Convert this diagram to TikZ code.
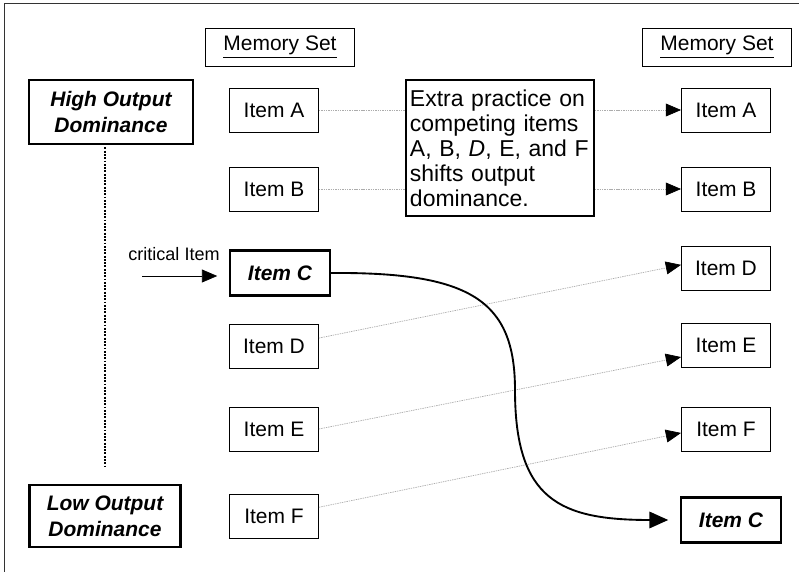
\documentclass[tikz,border=0pt]{standalone}
\usepackage{fontspec}
\setmainfont{Liberation Sans}
\usetikzlibrary{arrows.meta,positioning}

\begin{document}
\begin{tikzpicture}[x=0.03cm,y=-0.03cm,
    every node/.style={inner sep=2pt,font=\fontsize{17.9}{21}\selectfont},
    setbox/.style={draw,line width=0.7pt,minimum width=4.45cm,minimum height=1.14cm},
    itembox/.style={draw,line width=0.8pt,minimum width=2.67cm,minimum height=1.32cm},
    keybox/.style={draw,line width=1.8pt,minimum width=3cm,minimum height=1.35cm,
        font=\fontsize{17.9}{21}\selectfont\bfseries\itshape},
    dombox/.style={draw,line width=1.8pt,align=center,
        font=\fontsize{17.9}{22.2}\selectfont\bfseries\itshape},
    link/.style={gray!65,line width=0.6pt,dash pattern=on 1.2pt off 0.8pt},
    tip/.style={-{Triangle[length=13pt,width=11pt,black]}},
    bigtip/.style={-{Triangle[length=16pt,width=14pt,black]}}]
  \useasboundingbox (0,0) rectangle (799,572);
  % frame
  \draw[line width=0.8pt,black!80] (4,572) -- (4,3) -- (799,3);

  % study list
  \node[setbox]  (msL) at (280,47)  {\underline{Memory Set}};
  \node[itembox] (iA)  at (274,110) {Item A};
  \node[itembox] (iB)  at (274,189) {Item B};
  \node[keybox]  (iC)  at (280,273) {Item C};
  \node[itembox] (iD)  at (274,346) {Item D};
  \node[itembox] (iE)  at (274,429) {Item E};
  \node[itembox] (iF)  at (274,516) {Item F};

  % test list
  \node[setbox]  (msR) at (717,47)  {\underline{Memory Set}};
  \node[itembox] (rA)  at (726,110) {Item A};
  \node[itembox] (rB)  at (726,189) {Item B};
  \node[itembox] (rD)  at (726,268) {Item D};
  \node[itembox] (rE)  at (726,345) {Item E};
  \node[itembox] (rF)  at (726,429) {Item F};
  \node[keybox]  (rC)  at (731,520) {Item C};

  \node[dombox,minimum width=4.92cm,minimum height=1.92cm] (hod) at (111,112)
    {High Output\\Dominance};
  \node[dombox,minimum width=4.53cm,minimum height=1.86cm] (lod) at (105,516)
    {Low Output\\Dominance};

  \node[draw,line width=1.8pt,minimum width=5.64cm,minimum height=4.08cm,
        text width=5.4cm,align=left,inner xsep=3pt,
        font=\fontsize{19.6}{21.3}\selectfont] (extra) at (500,148)
    {Extra practice on\\competing items\\A, B, \textit{D}, E, and F\\shifts output\\dominance.};

  \node[font=\fontsize{15.4}{18}\selectfont] (crit) at (174,254) {critical Item};
  \coordinate (critS) at (142,276);

  % connectors
  \draw[line width=1.8pt,dash pattern=on 1.6pt off 1.2pt,shorten <=2pt,shorten >=13pt]
    (hod.south -| lod) -- (lod.north);
  \draw[tip,line width=0.6pt,shorten >=10pt] (critS) -- (critS -| iC.west);

  \draw[link] (iA.east) -- (iA.east -| extra.west);
  \draw[link] (iB.east) -- (iB.east -| extra.west);
  \draw[link,tip] (rA.west -| extra.east) -- (rA.west);
  \draw[link,tip] (rB.west -| extra.east) -- (rB.west);
  \draw[link,tip] (iD.10) -- (rD.176);
  \draw[link,tip] (iE.east) -- (rE.195);
  \draw[link,tip] (iF.11) -- (rF.185);

  \draw[bigtip,line width=1.6pt,shorten >=10pt] (iC.east)
    .. controls (470,272) and (515,300) .. (515,390)
    .. controls (515,500) and (560,520) .. (rC.west);
\end{tikzpicture}
\end{document}
